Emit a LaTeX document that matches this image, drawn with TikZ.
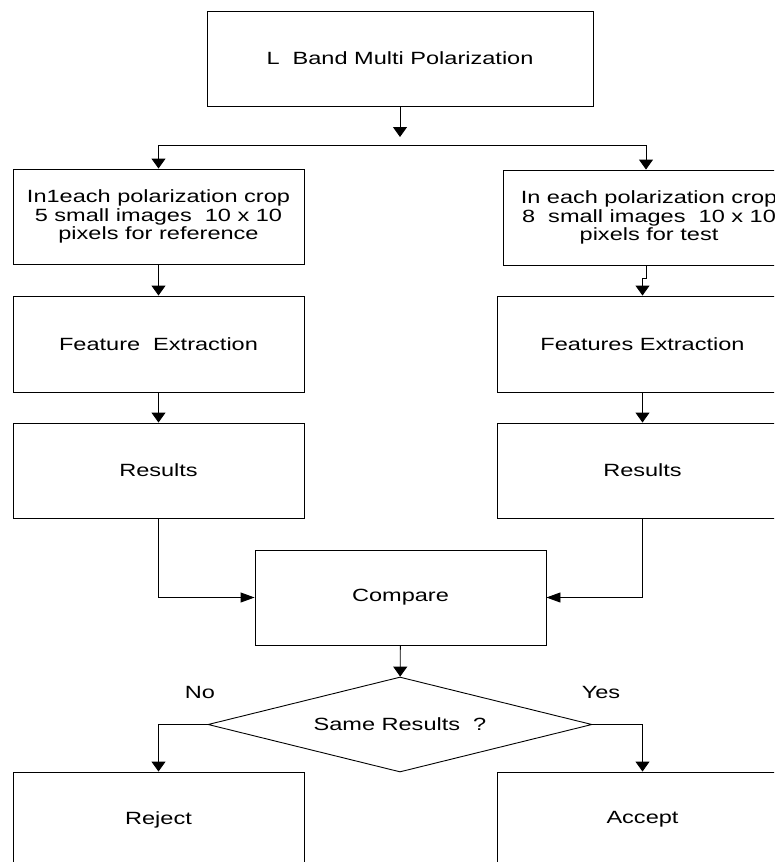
\documentclass[tikz,border=0pt]{standalone}
\usepackage{fontspec}
\setmainfont{Liberation Sans}[FakeStretch=1.33]
\usetikzlibrary{arrows.meta,shapes.geometric}
\begin{document}
\begin{tikzpicture}[x=1pt,y=-1pt,
  line width=0.9pt,
  txt/.style={font=\fontsize{17.7}{18.5}\selectfont},
  box/.style={draw, txt, inner sep=0pt, minimum width=291pt, minimum height=95pt, align=center},
  varr/.style={-{Triangle[length=10pt,width=14pt]}},
  harr/.style={-{Triangle[length=14pt,width=10pt]}}]
\useasboundingbox (0,0) rectangle (774,862);
\clip (0,0) rectangle (774,862);
\node[box, minimum width=386pt] (top) at (400,58.5) {L\ \ Band Multi Polarization};
\node[box] (l1) at (158.5,216.5) {In1each polarization crop\\5 small images\ \ 10 x 10\\pixels for reference};
\node[box] (r1) at (649,217.5) {In each polarization crop\\8\ \ small images\ \ 10 x 10\\pixels for test};
\node[box, minimum height=96pt] (l2) at (158.5,344) {Feature\ \ Extraction};
\node[box, minimum height=96pt] (r2) at (642.5,344) {Features Extraction};
\node[box] (l3) at (158.5,470.5) {Results};
\node[box] (r3) at (642.5,470.5) {Results};
\node[box] (cmp) at (400.5,597.5) {Compare};
\node[draw, diamond, aspect=4, txt, inner sep=0pt, minimum width=384pt, minimum height=95pt] (dia) at (400,724.5) {Same Results\ \ ?};
\node[box] (rej) at (158.5,819.5) {Reject};
\node[box] (acc) at (642.5,819.5) {Accept};
\node[txt] (no) at (200,692) {No};
\node[txt] (yes) at (601,692) {Yes};
% connectors
\coordinate (split) at (400,137);
\coordinate (bl) at (158.5,145);
\coordinate (br) at (646,145);
\draw[varr] (top) -- (split);
\draw (bl) -- (br);
\draw[varr] (bl) -- (l1.north);
\draw[varr] (br) -- (br |- r1.north);
\draw[varr] (l1) -- (l2);
\coordinate (j1) at (646,278);
\coordinate (j2) at (642.5,278);
\draw[varr] (br |- r1.south) -- (j1) -- (j2) -- (r2.north);
\draw[varr] (l2) -- (l3);
\draw[varr] (r2) -- (r3);
\draw[harr] (l3.south) |- (cmp.west);
\draw[harr] (r3.south) |- (cmp.east);
\draw[varr] (cmp) -- (dia);
\draw[varr] (dia.west) -| (rej.north);
\draw[varr] (dia.east) -| (acc.north);
\end{tikzpicture}
\end{document}
